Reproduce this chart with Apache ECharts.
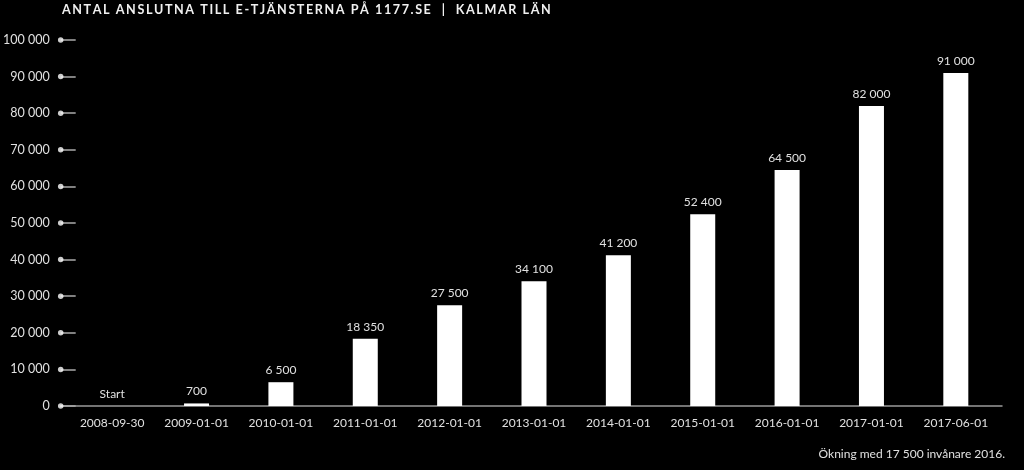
<!DOCTYPE html>
<html>
<head>
<meta charset="utf-8">
<style>
  html, body { margin: 0; padding: 0; background: #000; }
  #chart { width: 1024px; height: 470px; }
</style>
<script src="https://cdn.jsdelivr.net/npm/echarts@6/dist/echarts.min.js"></script>
</head>
<body>
<div id="chart"></div>
<script>
const titleText = 'ANTAL ANSLUTNA TILL E-TJÄNSTERNA PÅ 1177.SE  |  KALMAR LÄN';
const footnote = 'Ökning med 17 500 invånare 2016.';
const categories = ['2008-09-30', '2009-01-01', '2010-01-01', '2011-01-01', '2012-01-01', '2013-01-01', '2014-01-01', '2015-01-01', '2016-01-01', '2017-01-01', '2017-06-01'];
const values = [0, 700, 6500, 18350, 27500, 34100, 41200, 52400, 64500, 82000, 91000];
const firstLabel = 'Start';
const yTicks = [0, 10000, 20000, 30000, 40000, 50000, 60000, 70000, 80000, 90000, 100000];

const fmt = v => String(v).replace(/\B(?=(\d{3})+(?!\d))/g, ' ');
const spaced = s => s.split('').join('\u2009');
const FONT = 'Lato';
const TXT = '#e0e0e0';

const chart = echarts.init(document.getElementById('chart'), null, { renderer: 'canvas' });
chart.setOption({
  backgroundColor: '#000',
  animation: false,
  textStyle: { fontFamily: FONT },
  title: [
    { text: spaced(titleText), left: 57, top: -2,
      textStyle: { color: '#f0f0f0', fontSize: 12.6, fontWeight: 'bold', fontFamily: FONT } },
    { text: footnote, right: 14, top: 443,
      textStyle: { color: TXT, fontSize: 12, fontWeight: 'normal', fontFamily: FONT } }
  ],
  grid: [
    { left: 58, right: 22, top: 40, bottom: 64 },
    { left: 70, right: 26, top: 40, bottom: 64 }
  ],
  xAxis: [
    { type: 'value', gridIndex: 0, min: 0, max: 1,
      axisLine: { show: true, onZero: false, lineStyle: { color: '#9a9a9a', width: 1.5 } },
      axisTick: { show: false }, axisLabel: { show: false }, splitLine: { show: false } },
    { type: 'category', gridIndex: 1, data: categories,
      axisLine: { show: false }, axisTick: { show: false },
      axisLabel: { color: TXT, fontSize: 12, margin: 11, fontFamily: FONT } }
  ],
  yAxis: [
    { type: 'value', gridIndex: 0, min: 0, max: 100000, interval: 10000,
      axisLine: { show: false },
      axisTick: { show: true, inside: true, length: 15, lineStyle: { color: '#aaaaaa', width: 1.5 } },
      axisLabel: { color: TXT, fontSize: 12.5, margin: 11, formatter: v => fmt(v), fontFamily: FONT },
      splitLine: { show: false } },
    { type: 'value', gridIndex: 1, min: 0, max: 100000, interval: 10000, show: false }
  ],
  series: [
    { type: 'scatter', xAxisIndex: 0, yAxisIndex: 0, clip: false,
      data: yTicks.map(t => [0, t]), symbolSize: 5.5,
      itemStyle: { color: '#ffffff' }, silent: true, z: 5 },
    { type: 'bar', xAxisIndex: 1, yAxisIndex: 1, data: values, barWidth: 25,
      itemStyle: { color: '#ffffff' },
      label: { show: true, position: 'top', distance: 6, color: TXT, fontSize: 12, fontFamily: FONT,
        formatter: p => p.dataIndex === 0 ? firstLabel : fmt(p.value) } }
  ]
});
</script>
</body>
</html>
